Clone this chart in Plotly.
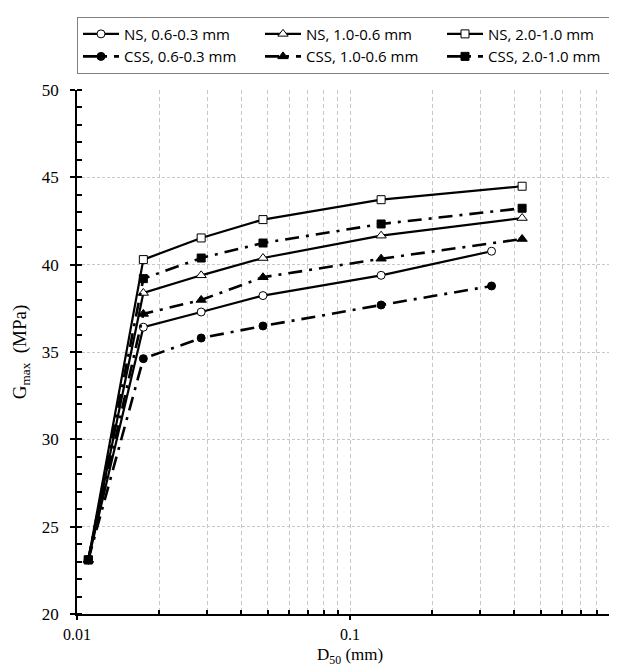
import plotly.graph_objects as go

# Data
d50_long = [0.011, 0.0175, 0.0285, 0.048, 0.13, 0.427]
d50_short = [0.011, 0.0175, 0.0285, 0.048, 0.13, 0.33]

ns_06_03 = [23.1, 36.42, 37.29, 38.23, 39.39, 40.77]
ns_10_06 = [23.1, 38.38, 39.39, 40.38, 41.66, 42.67]
ns_20_10 = [23.1, 40.29, 41.53, 42.58, 43.72, 44.49]
css_06_03 = [23.1, 34.62, 35.80, 36.49, 37.69, 38.78]
css_10_06 = [23.1, 37.18, 37.98, 39.28, 40.34, 41.47]
css_20_10 = [23.1, 39.20, 40.38, 41.24, 42.33, 43.23]

x_major = [0.01, 0.1, 1]
x_major_text = ["0.01", "0.1", "1"]
x_minor = [0.02, 0.03, 0.04, 0.05, 0.06, 0.07, 0.08, 0.09,
           0.2, 0.3, 0.4, 0.5, 0.6, 0.7, 0.8, 0.9]

series = [
    ("NS, 0.6-0.3 mm", d50_short, ns_06_03, "circle-open", "solid"),
    ("NS, 1.0-0.6 mm", d50_long, ns_10_06, "triangle-up-open", "solid"),
    ("NS, 2.0-1.0 mm", d50_long, ns_20_10, "square-open", "solid"),
    ("CSS, 0.6-0.3 mm", d50_short, css_06_03, "circle", "dashdot"),
    ("CSS, 1.0-0.6 mm", d50_long, css_10_06, "triangle-up", "dashdot"),
    ("CSS, 2.0-1.0 mm", d50_long, css_20_10, "square", "dashdot"),
]

fig = go.Figure()
for name, xs, ys, sym, style in series:
    is_open = sym.endswith("open")
    base_sym = sym.replace("-open", "")
    fig.add_trace(go.Scatter(
        x=xs, y=ys, name=name, mode="lines+markers",
        line=dict(color="black", width=2.2 if style == "solid" else 2.6,
                  dash="solid" if style == "solid" else "14px,7px,3px,7px"),
        marker=dict(symbol=base_sym,
                    size=8 if base_sym != "triangle-up" else 9,
                    color="white" if is_open else "black",
                    line=dict(color="black", width=1)),
    ))

serif = "Liberation Serif, Times New Roman, serif"
sans = "Open Sans, Noto Sans, sans-serif"

fig.update_layout(
    width=617, height=667,
    margin=dict(l=69, r=2, t=81.5, b=60.5),
    paper_bgcolor="white", plot_bgcolor="white",
    font=dict(family=serif, size=16, color="black"),
    showlegend=True,
    legend=dict(
        orientation="h", x=0, xanchor="left", y=1.14, yanchor="top",
        entrywidth=131, entrywidthmode="pixels",
        bgcolor="white", bordercolor="#808080", borderwidth=1,
        font=dict(family=sans, size=15, color="black"),
        tracegroupgap=0, itemwidth=36,
    ),
    xaxis=dict(
        type="log", range=[-2, 0], automargin=False,
        tickvals=x_major, ticktext=x_major_text, ticklabeloverflow="allow",
        ticks="outside", ticklen=4, tickwidth=1.5, tickcolor="black",
        ticklabelstandoff=1,
        showline=True, linecolor="black", linewidth=1.5,
        showgrid=True, gridcolor="#c8c8c8", griddash="4px,3px", gridwidth=1,
        zeroline=False,
        tickfont=dict(family=serif, size=16),
        minor=dict(tickvals=x_minor, ticks="inside", ticklen=4, tickwidth=1.5,
                   tickcolor="black", showgrid=True, gridcolor="#c8c8c8",
                   griddash="4px,3px", gridwidth=1),
    ),
    yaxis=dict(
        range=[20, 50], dtick=5, automargin=False,
        ticks="outside", ticklen=5, tickwidth=1.5, tickcolor="black",
        ticklabelstandoff=8,
        showline=True, linecolor="black", linewidth=1.5,
        showgrid=True, gridcolor="#c8c8c8", griddash="3px,2px", gridwidth=1,
        zeroline=False,
        tickfont=dict(family=serif, size=17),
        title=dict(text="G<sub>max</sub>  (MPa)", font=dict(family=serif, size=19), standoff=10),
        minor=dict(dtick=1, ticks="inside", ticklen=5, tickwidth=1.5,
                   tickcolor="black", showgrid=False),
    ),
    xaxis2=dict(
        type="log", range=[-2, 0], overlaying="x", anchor="y",
        tickvals=x_major, ticks="inside", ticklen=4, tickwidth=1.5,
        tickcolor="black", showticklabels=False, showgrid=False,
        showline=False, zeroline=False,
    ),
    yaxis2=dict(
        range=[20, 50], dtick=5, overlaying="y", anchor="x",
        ticks="inside", ticklen=5, tickwidth=1.5, tickcolor="black",
        showticklabels=False, showgrid=False, showline=False, zeroline=False,
    ),
    annotations=[dict(
        text="D<sub>50</sub> (mm)", xref="paper", yref="paper",
        x=0.5, y=-0.081, xanchor="center", yanchor="middle", showarrow=False,
        borderpad=0,
        font=dict(family=serif, size=17, color="black"),
    )],
)

fig.write_html("out.html")
